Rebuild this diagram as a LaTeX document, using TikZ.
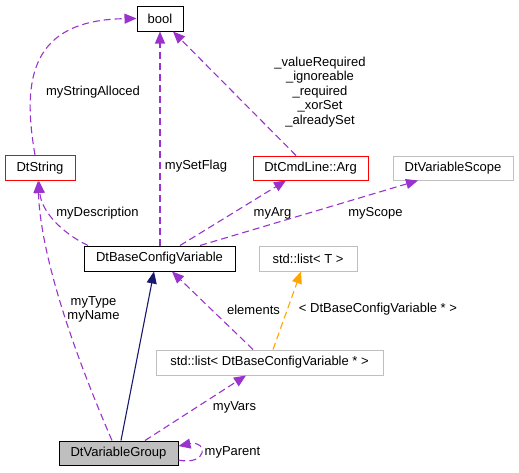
\documentclass[tikz,border=0pt]{standalone}
\usepackage{fontspec}
\setmainfont{Liberation Sans}
\usetikzlibrary{arrows.meta}

\definecolor{orchid}{HTML}{9A32CD}
\definecolor{midnight}{HTML}{191970}
\definecolor{greybox}{HTML}{BFBFBF}
\definecolor{tmplorange}{HTML}{FFA500}

\begin{document}
\begin{tikzpicture}[x=1pt,y=-1pt,
    font=\fontsize{13}{14.5}\selectfont,
    cls/.style={draw=black,line width=1pt,inner sep=0pt,minimum height=25pt},
    redcls/.style={cls,draw=red},
    graycls/.style={cls,draw=greybox},
    member/.style={orchid,line width=1.1pt,dash pattern=on 7pt off 4pt,
        -{Triangle[length=12pt,width=10pt]}},
    templ/.style={member,tmplorange},
    derived/.style={midnight,line width=1.1pt,-{Triangle[length=12pt,width=10pt]}},
    lab/.style={inner sep=0pt,align=center}]

    \useasboundingbox (0,0) rectangle (519,472);

    % Classes
    \node [cls,minimum width=46pt] (bool) at (160,18.5) {bool};
    \node [redcls,minimum width=70pt] (str) at (40,168) {DtString};
    \node [redcls,minimum width=115pt,minimum height=24pt] (arg) at (310.5,168) {DtCmdLine::Arg};
    \node [graycls,minimum width=120pt,minimum height=24pt] (scope) at (453,168) {DtVariableScope};
    \node [cls,minimum width=151pt] (base) at (159.5,258.5) {DtBaseConfigVariable};
    \node [graycls,minimum width=98pt] (listT) at (308,258.5) {std::list< T >};
    \node [graycls,minimum width=227pt] (listB) at (269.5,362.5) {std::list< DtBaseConfigVariable * >};
    \node [cls,fill=greybox,minimum width=119pt,minimum height=24pt] (group) at (118.5,453) {DtVariableGroup};

    % Members pointing to bool
    \draw [member] ([xshift=-5pt]str.north) .. controls (22,80) and (30,20) .. (bool.west);
    \draw [member] ([xshift=0.5pt]base.north) -- (bool.south);
    \draw [member] ([xshift=-14.5pt]arg.north) -- ([xshift=13pt]bool.south);

    % Members of DtBaseConfigVariable
    \draw [member] ([xshift=-71.5pt]base.north) .. controls (60,232) and (41,210) .. ([xshift=-1pt]str.south);
    \draw [member] ([xshift=20.5pt]base.north) -- ([xshift=-24.5pt]arg.south);
    \draw [member] ([xshift=40.5pt]base.north) -- ([xshift=-35pt]scope.south);

    % The list and its template
    \draw [member] ([xshift=-16.5pt]listB.north) -- ([xshift=12.5pt]base.south);
    \draw [templ] ([xshift=3.5pt]listB.north) -- ([xshift=-7pt]listT.south);

    % DtVariableGroup
    \draw [derived] ([xshift=2.5pt]group.north) -- ([xshift=-5.5pt]base.south);
    \draw [member] ([xshift=-6.5pt]group.north) .. controls (60,320) and (40,240) .. ([xshift=-2pt]str.south);
    \draw [member] ([xshift=26.5pt]group.north) -- ([xshift=-23.5pt]listB.south);
    \draw [member] ([yshift=-7pt]group.east) .. controls (208,466) and (208,440) .. ([yshift=7pt]group.east);

    % Labels
    \node [lab] (lAlloc) at (93,92) {myStringAlloced};
    \node [lab] (lFlag) at (196,166) {mySetFlag};
    \node [lab] (lArgs) at (320,92) {\_valueRequired\\\_ignoreable\\\_required\\\_xorSet\\\_alreadySet};
    \node [lab] (lDesc) at (97.5,213) {myDescription};
    \node [lab] (lArg) at (272.5,213) {myArg};
    \node [lab] (lScope) at (375.5,213) {myScope};
    \node [lab] (lName) at (93.5,309.5) {myType\\myName};
    \node [lab] (lElem) at (253.5,309.5) {elements};
    \node [lab] (lTempl) at (378,309.5) {< DtBaseConfigVariable * >};
    \node [lab] (lVars) at (234.5,407) {myVars};
    \node [lab] (lParent) at (232.5,452) {myParent};

\end{tikzpicture}
\end{document}
